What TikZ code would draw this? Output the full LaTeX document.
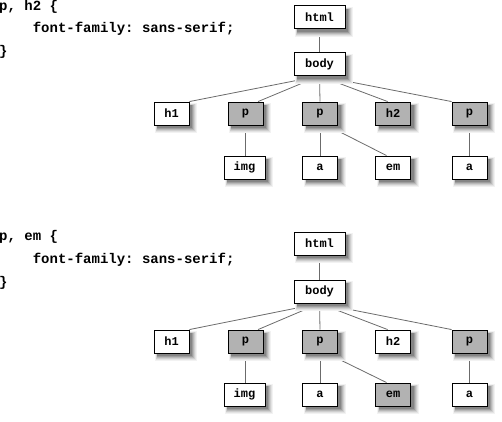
\documentclass[tikz,border=0pt]{standalone}
\usepackage{fontspec}
\setmonofont{Liberation Mono}
\usetikzlibrary{calc,backgrounds}
\tikzset{
  box/.style={draw=black, line width=0.9pt, fill=white, minimum height=23pt,
    minimum width=35pt, inner sep=0pt,
    font=\ttfamily\bfseries\fontsize{12}{12}\selectfont},
  graybox/.style={box, fill=black!30},
  wide/.style={minimum width=51pt},
  mid/.style={minimum width=41pt},
  edge/.style={draw=black!58, line width=0.8pt},
  code/.style={anchor=base west, inner sep=0pt,
    font=\ttfamily\bfseries\fontsize{14}{14}\selectfont}
}
% shadow behind a box: centre x, centre y, half width, half height
\newcommand\boxshade[4]{%
  \fill[black!5]  (#1-#3+1,#2-#4+1) rectangle (#1+#3+8,#2+#4+8);
  \fill[black!11] (#1-#3+2,#2-#4+2) rectangle (#1+#3+7,#2+#4+7);
  \fill[black!19] (#1-#3+2,#2-#4+2) rectangle (#1+#3+6,#2+#4+6);
  \fill[black!28] (#1-#3+3,#2-#4+3) rectangle (#1+#3+5,#2+#4+5);
  \fill[black!38] (#1-#3+3,#2-#4+3) rectangle (#1+#3+4,#2+#4+4);
  \fill[black!48] (#1-#3+3,#2-#4+3) rectangle (#1+#3+3,#2+#4+3);
}
\begin{document}
\begin{tikzpicture}[x=1pt,y=-1pt]
\useasboundingbox (0,0) rectangle (502,421);
% ---------- shadows ----------
\boxshade{319.5}{17}{25.5}{11.5}
\boxshade{319.5}{64}{25.5}{11.5}
\boxshade{171.5}{113.5}{17.5}{11.5}
\boxshade{245.5}{113.5}{17.5}{11.5}
\boxshade{320}{113.5}{17.5}{11.5}
\boxshade{393}{113.5}{17.5}{11.5}
\boxshade{469.5}{113.5}{17.5}{11.5}
\boxshade{244.5}{167.5}{20.5}{11.5}
\boxshade{320}{167.5}{17.5}{11.5}
\boxshade{393}{167.5}{17.5}{11.5}
\boxshade{469.5}{167.5}{17.5}{11.5}
\boxshade{319.5}{243.5}{25.5}{11.5}
\boxshade{319.5}{291.5}{25.5}{11.5}
\boxshade{171.5}{341.5}{17.5}{11.5}
\boxshade{245.5}{341.5}{17.5}{11.5}
\boxshade{320}{341.5}{17.5}{11.5}
\boxshade{393}{341.5}{17.5}{11.5}
\boxshade{469.5}{341.5}{17.5}{11.5}
\boxshade{244.5}{394.5}{20.5}{11.5}
\boxshade{320}{394.5}{17.5}{11.5}
\boxshade{393}{394.5}{17.5}{11.5}
\boxshade{469.5}{394.5}{17.5}{11.5}
% ---------- top ----------
\node[code] (c1) at (-1,10) {p, h2 \{};
\node[code] (c2) at (32.6,32.5) {font-family: sans-serif;};
\node[code] (c3) at (-1,55) {\}};
\node[box,wide] (html) at (319.5,17) {html};
\node[box,wide] (body) at (319.5,64) {body};
\node[box] (h1) at (171.5,113.5) {h1};
\node[graybox] (p1) at (245.5,113.5) {p};
\node[graybox] (p2) at (320,113.5) {p};
\node[graybox] (h2) at (393,113.5) {h2};
\node[graybox] (p3) at (469.5,113.5) {p};
\node[box,mid] (img) at (244.5,167.5) {img};
\node[box] (a1) at (320,167.5) {a};
\node[box] (em) at (393,167.5) {em};
\node[box] (a2) at (469.5,167.5) {a};
% ---------- bottom ----------
\node[code] (d1) at (-1,240) {p, em \{};
\node[code] (d2) at (32.6,263) {font-family: sans-serif;};
\node[code] (d3) at (-1,286) {\}};
\node[box,wide] (bhtml) at (319.5,243.5) {html};
\node[box,wide] (bbody) at (319.5,291.5) {body};
\node[box] (bh1) at (171.5,341.5) {h1};
\node[graybox] (bp1) at (245.5,341.5) {p};
\node[graybox] (bp2) at (320,341.5) {p};
\node[box] (bh2) at (393,341.5) {h2};
\node[graybox] (bp3) at (469.5,341.5) {p};
\node[box,mid] (bimg) at (244.5,394.5) {img};
\node[box] (ba1) at (320,394.5) {a};
\node[graybox] (bem) at (393,394.5) {em};
\node[box] (ba2) at (469.5,394.5) {a};
\begin{scope}[on background layer]
\draw[edge] (html.south) -- (body.north);
\draw[edge] (body.south) -- (h1.north east);
\draw[edge] (body.south) -- ($(p1.north west)!0.85!(p1.north east)$);
\draw[edge] (body.south) -- (p2.north);
\draw[edge] (body.south) -- ($(h2.north west)!0.35!(h2.north east)$);
\draw[edge] (body.south) -- (p3.north west);
\draw[edge] (p1.south) -- (p1.south |- img.north);
\draw[edge] (p2.south) -- (a1.north);
\draw[edge] ($(p2.south west)!0.7!(p2.south east)$) -- ($(em.north west)!0.32!(em.north east)$);
\draw[edge] (p3.south) -- (a2.north);
\draw[edge] (bhtml.south) -- (bbody.north);
\draw[edge] (bbody.south) -- (bh1.north east);
\draw[edge] (bbody.south) -- ($(bp1.north west)!0.85!(bp1.north east)$);
\draw[edge] (bbody.south) -- (bp2.north);
\draw[edge] (bbody.south) -- ($(bh2.north west)!0.35!(bh2.north east)$);
\draw[edge] (bbody.south) -- (bp3.north west);
\draw[edge] (bp1.south) -- (bp1.south |- bimg.north);
\draw[edge] (bp2.south) -- (ba1.north);
\draw[edge] ($(bp2.south west)!0.7!(bp2.south east)$) -- ($(bem.north west)!0.32!(bem.north east)$);
\draw[edge] (bp3.south) -- (ba2.north);
\end{scope}
\end{tikzpicture}
\end{document}
